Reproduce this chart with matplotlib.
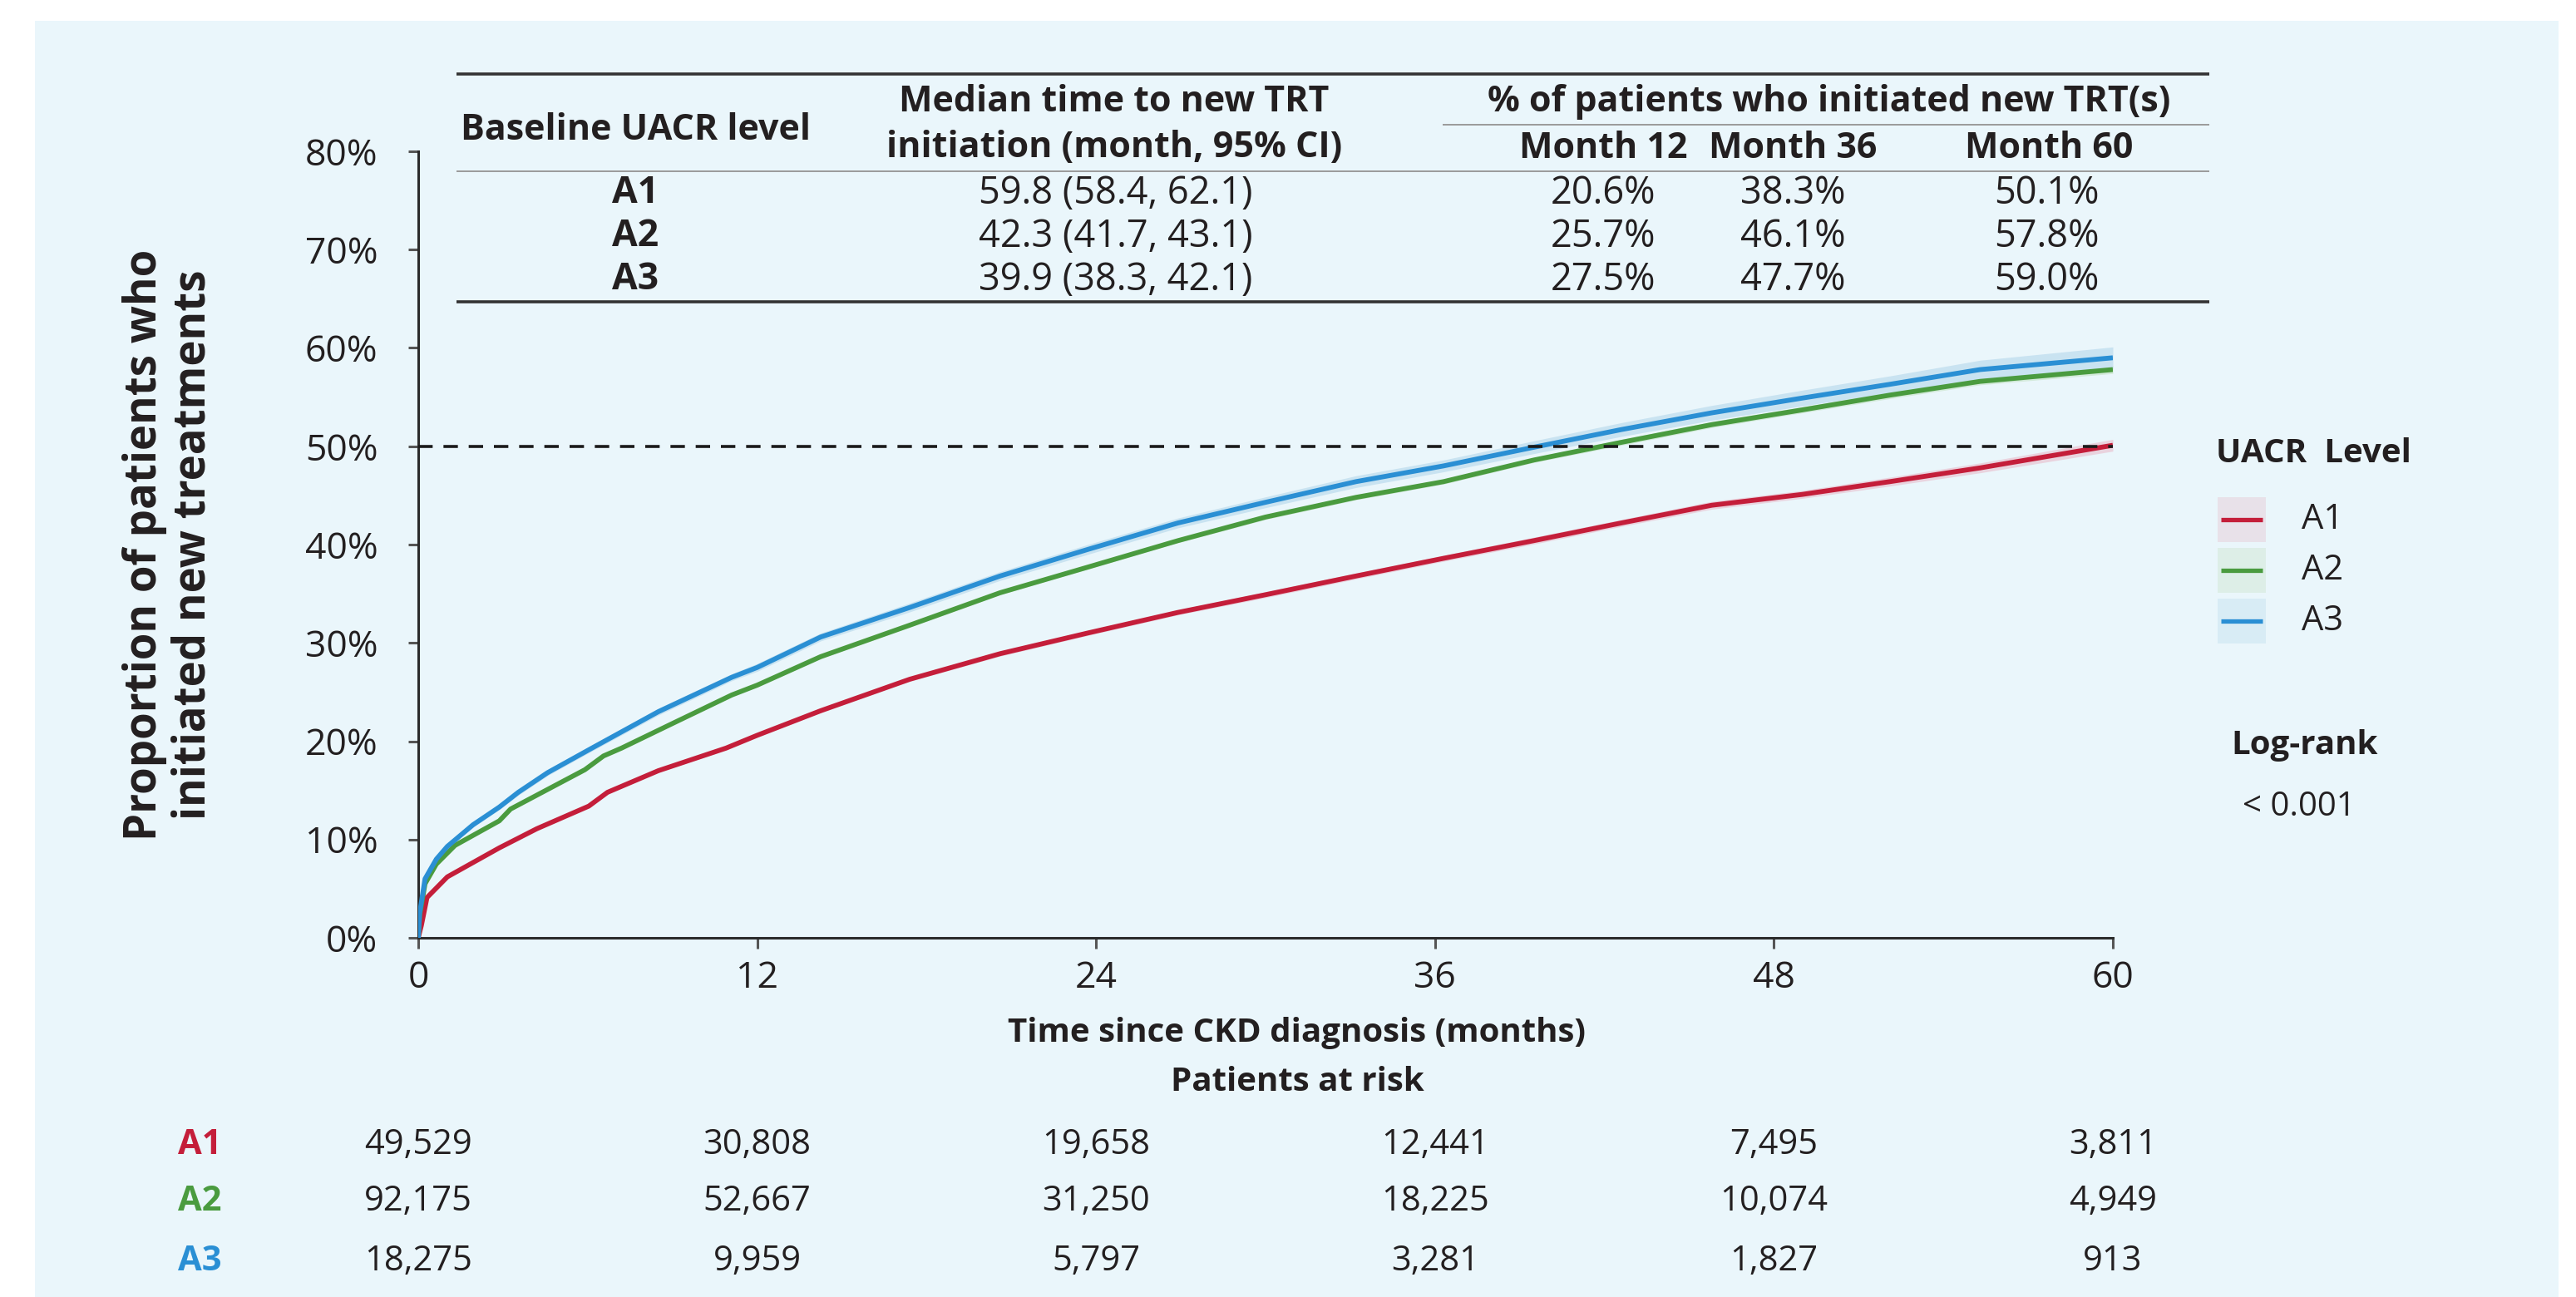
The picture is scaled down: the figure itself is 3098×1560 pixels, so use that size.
import matplotlib
matplotlib.use("Agg")
import matplotlib.pyplot as plt
from matplotlib.patches import Rectangle
from matplotlib.lines import Line2D
from matplotlib.transforms import blended_transform_factory
import numpy as np

plt.rcParams['font.family'] = ['Open Sans', 'DejaVu Sans']

# ---------------- data ----------------
groups = ["A1", "A2", "A3"]
colors = {"A1": "#C41E3A", "A2": "#4A9B3F", "A3": "#2A8FD4"}
band_colors = {"A1": "#E9D3DE", "A2": "#D3EADA", "A3": "#C9E3F1"}
patch_colors = {"A1": "#E8E1E9", "A2": "#DDEEE7", "A3": "#D8ECF5"}

t_a1 = [0, 0.11, 0.31, 1.03, 2.87, 4.2, 6.04, 6.7, 8.5, 10.9, 12, 14.25, 17.4, 20.6, 23.7,
        26.9, 30.0, 33.2, 36.3, 39.5, 42.6, 45.8, 49.0, 52.1, 55.3, 60]
p_a1 = [0, 1.25, 4.1, 6.2, 9.15, 11.1, 13.4, 14.8, 17.0, 19.3, 20.6, 23.1, 26.3, 28.9, 31.0,
        33.1, 34.9, 36.8, 38.6, 40.4, 42.2, 44.0, 45.1, 46.4, 47.8, 50.1]
ci_a1 = [0, 0.05, 0.1, 0.1, 0.1, 0.15, 0.15, 0.15, 0.15, 0.2, 0.2, 0.2, 0.2, 0.25, 0.25,
         0.25, 0.3, 0.3, 0.3, 0.35, 0.35, 0.4, 0.4, 0.45, 0.5, 0.6]

t_a2 = [0, 0.05, 0.24, 0.64, 1.3, 2.87, 3.27, 5.9, 6.56, 7.2, 9, 11.1, 12, 14.25, 17.4, 20.6,
        23.7, 26.9, 30.0, 33.2, 36.3, 39.5, 42.6, 45.8, 49.0, 52.1, 55.3, 60]
p_a2 = [0, 2.3, 5.5, 7.5, 9.4, 11.9, 13.1, 17.1, 18.5, 19.3, 21.8, 24.7, 25.7, 28.6, 31.8, 35.1,
        37.7, 40.4, 42.8, 44.8, 46.4, 48.6, 50.4, 52.2, 53.7, 55.2, 56.6, 57.8]
ci_a2 = [0, 0.05, 0.1, 0.1, 0.1, 0.1, 0.1, 0.15, 0.15, 0.15, 0.15, 0.15, 0.15, 0.2, 0.2, 0.2,
         0.2, 0.2, 0.25, 0.25, 0.25, 0.25, 0.3, 0.3, 0.3, 0.35, 0.35, 0.4]

t_a3 = [0, 0.05, 0.24, 0.64, 1.03, 1.94, 2.87, 3.54, 4.58, 6.15, 8.5, 11.1, 12, 14.25, 17.4, 20.6,
        23.7, 26.9, 30.0, 33.2, 36.3, 39.5, 42.6, 45.8, 49.0, 52.1, 55.3, 60]
p_a3 = [0, 2.5, 6.0, 8.0, 9.3, 11.5, 13.3, 14.8, 16.8, 19.3, 23.0, 26.5, 27.5, 30.6, 33.6, 36.8,
        39.5, 42.2, 44.3, 46.4, 48.0, 49.9, 51.7, 53.4, 54.9, 56.3, 57.8, 59.0]
ci_a3 = [0, 0.1, 0.2, 0.2, 0.2, 0.25, 0.25, 0.3, 0.3, 0.3, 0.35, 0.35, 0.4, 0.4, 0.45, 0.45,
         0.5, 0.5, 0.55, 0.6, 0.6, 0.65, 0.7, 0.75, 0.8, 0.85, 0.95, 1.1]

series = {"A1": (t_a1, p_a1, ci_a1), "A2": (t_a2, p_a2, ci_a2), "A3": (t_a3, p_a3, ci_a3)}

x_ticks = [0, 12, 24, 36, 48, 60]
y_ticks = [0, 10, 20, 30, 40, 50, 60, 70, 80]

at_risk = {
    "A1": ["49,529", "30,808", "19,658", "12,441", "7,495", "3,811"],
    "A2": ["92,175", "52,667", "31,250", "18,225", "10,074", "4,949"],
    "A3": ["18,275", "9,959", "5,797", "3,281", "1,827", "913"],
}

table_median = ["59.8 (58.4, 62.1)", "42.3 (41.7, 43.1)", "39.9 (38.3, 42.1)"]
table_m12 = ["20.6%", "25.7%", "27.5%"]
table_m36 = ["38.3%", "46.1%", "47.7%"]
table_m60 = ["50.1%", "57.8%", "59.0%"]

# ---------------- figure ----------------
W, H = 3098, 1560
fig = plt.figure(figsize=(W / 100, H / 100), dpi=100)
fig.patch.set_facecolor("white")

def fx(px):
    return px / W

def fy(py):
    return 1 - py / H

TXT = "#231F20"

fig.patches.append(Rectangle((fx(42), 0), fx(3077) - fx(42), fy(25), transform=fig.transFigure,
                             facecolor="#EAF6FB", edgecolor="none", zorder=-10))

ax = fig.add_axes([fx(503), fy(1128), fx(2541) - fx(503), fy(182) - fy(1128)])
ax.set_facecolor("none")

for g in groups:
    t, p, ci = series[g]
    t = np.array(t); p = np.array(p); ci = np.array(ci)
    ax.fill_between(t, p - ci, p + ci, color=band_colors[g], lw=0, zorder=2)
    ax.plot(t, p, color=colors[g], lw=4.2, zorder=3, solid_capstyle="butt",
            solid_joinstyle="round")

ax.plot([0, 60], [50, 50], color="#1a1a1a", lw=2.6, linestyle=(0, (4.8, 3.6)), zorder=4)

ax.set_xlim(0, 60)
ax.set_ylim(0, 80)
ax.set_xticks(x_ticks)
ax.set_xticklabels([str(v) for v in x_ticks])
ax.set_yticks(y_ticks)
ax.set_yticklabels([f"{v}%" for v in y_ticks])
for s in ["top", "right"]:
    ax.spines[s].set_visible(False)
for s in ["left", "bottom"]:
    ax.spines[s].set_linewidth(2.2)
    ax.spines[s].set_color("#2b2b2b")
ax.tick_params(axis="both", direction="out", length=9, width=2.2, color="#555555",
               labelsize=32, labelcolor=TXT)
ax.tick_params(axis="y", pad=26)
ax.tick_params(axis="x", pad=10)

# y label
fig.text(fx(203), fy(655), "Proportion of patients who\ninitiated new treatments", rotation=90,
         ha="center", va="center", fontsize=38, fontweight="bold", color=TXT,
         linespacing=1.12, multialignment="center")

# x label & at risk header
fig.text(fx(1560), fy(1243), "Time since CKD diagnosis (months)", ha="center", va="center",
         fontsize=29, fontweight="bold", color=TXT)
fig.text(fx(1560), fy(1302), "Patients at risk", ha="center", va="center",
         fontsize=29, fontweight="bold", color=TXT)

# risk table
trans = blended_transform_factory(ax.transData, fig.transFigure)
row_y = {"A1": 1377, "A2": 1445, "A3": 1517}
for g in groups:
    fig.text(fx(240), fy(row_y[g]), g, ha="center", va="center", fontsize=30,
             fontweight="bold", color=colors[g])
    for xv, s in zip(x_ticks, at_risk[g]):
        ax.text(xv, fy(row_y[g]), s, transform=trans, ha="center", va="center",
                fontsize=30, color=TXT, clip_on=False)

# top table
def hline(x0, x1, y, lw, color):
    fig.add_artist(Line2D([fx(x0), fx(x1)], [fy(y), fy(y)], transform=fig.transFigure,
                          lw=lw, color=color, solid_capstyle="butt"))

hline(549, 2657, 89, 2.6, "#333333")
hline(1735, 2657, 150, 1.4, "#9a9a9a")
hline(549, 2657, 206, 1.4, "#9a9a9a")
hline(549, 2657, 363, 2.6, "#333333")

hdr = dict(ha="center", va="center", fontsize=31, fontweight="bold", color=TXT)
fig.text(fx(764), fy(157), "Baseline UACR level", **hdr)
fig.text(fx(1340), fy(123), "Median time to new TRT", **hdr)
fig.text(fx(1340), fy(178), "initiation (month, 95% CI)", **hdr)
fig.text(fx(2200), fy(123), "% of patients who initiated new TRT(s)", **hdr)
fig.text(fx(1928), fy(178), "Month 12", **hdr)
fig.text(fx(2156), fy(178), "Month 36", **hdr)
fig.text(fx(2464), fy(178), "Month 60", **hdr)

rows_y = [233, 285, 337]
cell = dict(ha="center", va="center", fontsize=32.5, color=TXT)
for i, g in enumerate(groups):
    fig.text(fx(764), fy(rows_y[i]), g, ha="center", va="center", fontsize=32,
             fontweight="bold", color=TXT)
    fig.text(fx(1342), fy(rows_y[i]), table_median[i], **cell)
    fig.text(fx(1928), fy(rows_y[i]), table_m12[i], **cell)
    fig.text(fx(2156), fy(rows_y[i]), table_m36[i], **cell)
    fig.text(fx(2461), fy(rows_y[i]), table_m60[i], **cell)

# legend
fig.text(fx(2665), fy(545), "UACR  Level", ha="left", va="center", fontsize=29,
         fontweight="bold", color=TXT)
leg_y = {"A1": 625, "A2": 686, "A3": 747}
for g in groups:
    yc = leg_y[g]
    fig.patches.append(Rectangle((fx(2667), fy(yc + 27)), fx(2725) - fx(2667), fy(yc - 27) - fy(yc + 27),
                                 transform=fig.transFigure, facecolor=patch_colors[g],
                                 edgecolor="none"))
    fig.add_artist(Line2D([fx(2671), fx(2721)], [fy(yc), fy(yc)], transform=fig.transFigure,
                          lw=3.8, color=colors[g], solid_capstyle="butt"))
    fig.text(fx(2768), fy(yc), g, ha="left", va="center", fontsize=30, color=TXT)

fig.text(fx(2683), fy(897), "Log-rank", ha="left", va="center", fontsize=29,
         fontweight="bold", color=TXT)
fig.text(fx(2697), fy(971), "< 0.001", ha="left", va="center", fontsize=29, color=TXT)

fig.savefig("out.png", dpi=100)
